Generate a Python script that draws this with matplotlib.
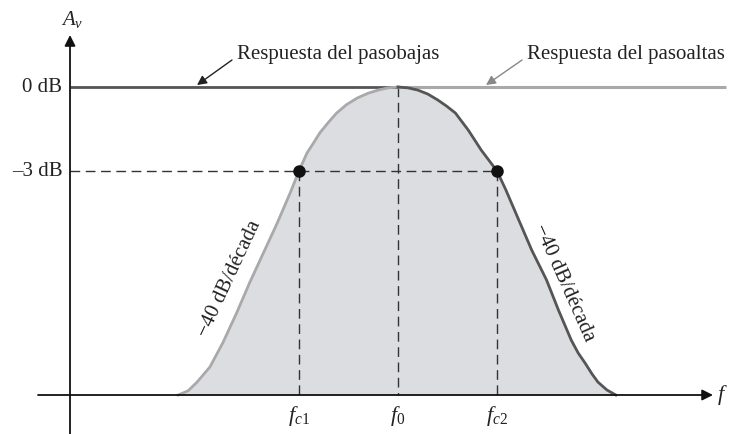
import numpy as np
import matplotlib.pyplot as plt

plt.rcParams['font.family'] = ['Liberation Serif', 'DejaVu Serif']
plt.rcParams['mathtext.fontset'] = 'custom'
plt.rcParams['mathtext.rm'] = 'Liberation Serif'
plt.rcParams['mathtext.it'] = 'Liberation Serif:italic'

# x in units of "one step" between fc1, f0, fc2 (f0 = 0), y in dB
freq_ticks = [-1.0, 0.0, 1.0]
freq_labels = [r'$f_{c1}$', r'$f_0$', r'$f_{c2}$']
db_ticks = [0, -3]
db_labels = ['0 dB', '\u20133 dB']

# band-pass curve, left half (rising) and right half (falling)
left_x = [-2.22, -2.12, -2.03, -1.90, -1.77, -1.63, -1.50, -1.36, -1.22, -1.09, -1.0,
          -0.92, -0.85, -0.79, -0.70, -0.62, -0.52, -0.41, -0.30, -0.20, -0.10, 0.0]
left_y = [-11.0, -10.85, -10.54, -10.0, -9.14, -8.07, -7.0, -5.93, -4.86, -3.79, -3.0,
          -2.36, -1.98, -1.64, -1.25, -0.93, -0.63, -0.39, -0.22, -0.11, -0.03, 0.0]
right_x = [0.0, 0.10, 0.20, 0.30, 0.40, 0.49, 0.58, 0.71, 0.84, 1.0, 1.09, 1.22, 1.35,
           1.50, 1.62, 1.75, 1.82, 1.89, 1.96, 2.02, 2.11, 2.20]
right_y = [0.0, -0.03, -0.11, -0.25, -0.46, -0.68, -0.93, -1.54, -2.25, -3.0, -3.68,
           -4.75, -5.82, -6.89, -7.96, -9.04, -9.50, -9.86, -10.25, -10.54, -10.82, -11.0]

lowpass_x = [-3.31, 0.0]
highpass_x = [0.0, 3.31]
floor_db = -11

dark = '#555555'
light = '#a9a9a9'
fill = '#dcdde0'

fig = plt.figure(figsize=(7.33, 4.34), dpi=100)
ax = fig.add_axes([0, 0, 1, 1])
ax.set_xlim(-398 / 99, (733 - 398) / 99)
ax.set_ylim(-(434 - 87) / 28, 87 / 28)
ax.axis('off')

# shaded area under the band-pass response
ax.fill_between(left_x + right_x[1:], left_y + right_y[1:], floor_db, color=fill, lw=0, zorder=1)

# dashed guide lines
dash = dict(color='#333333', lw=1.0, dashes=(7, 4), zorder=2)
ax.plot([-3.31, freq_ticks[2]], [db_ticks[1]] * 2, **dash)
ax.plot([freq_ticks[0]] * 2, [db_ticks[1], floor_db], **dash)
ax.plot([freq_ticks[1]] * 2, [db_ticks[0], floor_db], **dash)
ax.plot([freq_ticks[2]] * 2, [db_ticks[1], floor_db], **dash)

# responses
ax.plot(highpass_x, [0, 0], color=light, lw=2.2, zorder=3, solid_capstyle='butt')
ax.plot(lowpass_x, [0, 0], color=dark, lw=2.0, zorder=3, solid_capstyle='butt')
ax.plot(left_x, left_y, color=light, lw=2.0, zorder=3, solid_joinstyle='round')
ax.plot(right_x, right_y, color=dark, lw=2.0, zorder=3, solid_joinstyle='round')

# -3 dB points
ax.plot([freq_ticks[0], freq_ticks[2]], [db_ticks[1]] * 2, 'o', color='#111111', ms=8, zorder=4)

# axes with arrows
ax.annotate('', xy=(3.182, floor_db), xytext=(-3.636, floor_db),
            arrowprops=dict(arrowstyle='-|>', color='#111111', lw=1.3, mutation_scale=16,
                            shrinkA=0, shrinkB=0), zorder=5)
ax.annotate('', xy=(-3.313, 1.857), xytext=(-3.313, -12.5),
            arrowprops=dict(arrowstyle='-|>', color='#111111', lw=1.3, mutation_scale=16,
                            shrinkA=0, shrinkB=0), zorder=5)

ax.text(-3.29, 2.4, r'$A_v$', fontsize=15, ha='center', va='center', color='#222222')
ax.text(3.28, floor_db, r'$f$', fontsize=16, ha='center', va='center', color='#222222')

for x, lab in zip(freq_ticks, freq_labels):
    ax.text(x, -11.75, lab, fontsize=16, ha='center', va='center', color='#222222')
for y, lab in zip(db_ticks, db_labels):
    ax.text(-3.39, y, lab, fontsize=15, ha='right', va='center', color='#222222')

# annotations
ax.text(-1.626, 1.0, 'Respuesta del pasobajas', fontsize=15, ha='left', va='baseline',
        color='#222222')
ax.annotate('', xy=(-2.03, 0.07), xytext=(-1.677, 0.964),
            arrowprops=dict(arrowstyle='-|>', color='#222222', lw=1.0, mutation_scale=14,
                            shrinkA=0, shrinkB=0))
ax.text(1.303, 1.0, 'Respuesta del pasoaltas', fontsize=15, ha='left', va='baseline',
        color='#222222')
ax.annotate('', xy=(0.889, 0.07), xytext=(1.253, 0.964),
            arrowprops=dict(arrowstyle='-|>', color='#888888', lw=1.0, mutation_scale=14,
                            shrinkA=0, shrinkB=0))

ax.text(-1.70, -6.85, '\u221240 dB/década', fontsize=15, rotation=65, rotation_mode='anchor',
        ha='center', va='center', color='#222222')
ax.text(1.67, -7.0, '\u221240 dB/década', fontsize=15, rotation=-66, rotation_mode='anchor',
        ha='center', va='center', color='#222222')

fig.savefig('out.png', dpi=100)
